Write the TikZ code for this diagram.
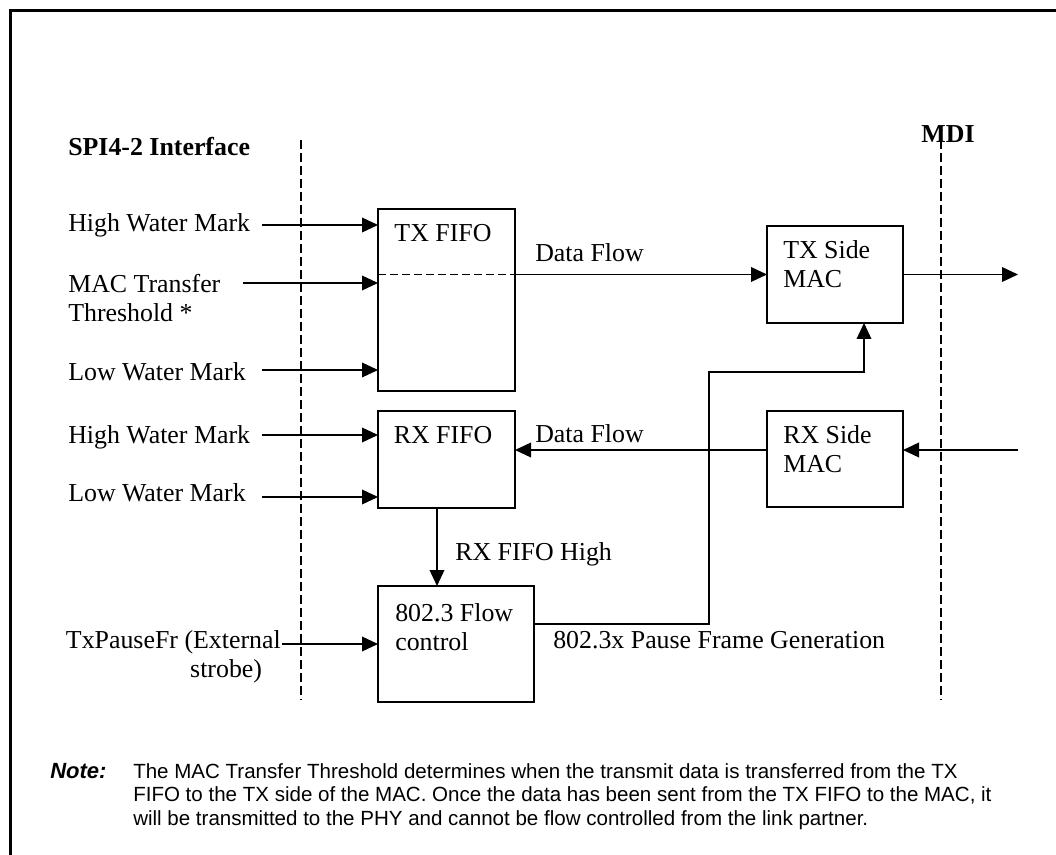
\documentclass[tikz,border=0pt]{standalone}
\usepackage{fontspec}
\setmainfont{Liberation Serif}
\newfontfamily\notefont{Liberation Sans}
\usetikzlibrary{arrows.meta}
\tikzset{
  unitbox/.style={draw,line width=1.1pt,inner sep=0pt,outer sep=0pt},
  sig/.style={-{Triangle[length=12pt,width=11pt]},line width=1.1pt},
  boundary/.style={line width=0.8pt,dash pattern=on 6.75pt off 3pt},
  fifosplit/.style={line width=0.8pt,dash pattern=on 6pt off 3pt},
  lbl/.style={inner sep=0pt,font=\fontsize{19.4}{21.75}\selectfont},
  head/.style={inner sep=0pt,font=\fontsize{19.4}{21.75}\selectfont\bfseries},
  notestyle/.style={inner sep=0pt,font=\notefont\fontsize{15.4}{17.6}\selectfont}
}
\begin{document}
\begin{tikzpicture}[x=0.75pt,y=-0.75pt]
  \useasboundingbox (0,0) rectangle (1056,855);
  \draw[line width=1.9pt] (10.5,855) -- (10.5,10.5) -- (1056,10.5);
  % interface boundaries
  \coordinate (spitop) at (301,140);
  \coordinate (spibot) at (301,700);
  \coordinate (mditop) at (941,140);
  \coordinate (mdibot) at (941,700);
  \draw[boundary] (spitop) -- (spibot);
  \draw[boundary] (mditop) -- (mdibot);
  \node[head,anchor=base west] (spi) at (68,156) {SPI4-2 Interface};
  \node[head,anchor=base] (mdi) at (948,143) {MDI};
  % blocks
  \node[unitbox,minimum width=102.75pt,minimum height=136.5pt] (txfifo) at (446.5,300) {};
  \node[unitbox,minimum width=102.75pt,minimum height=72.75pt] (rxfifo) at (446.5,459.5) {};
  \node[unitbox,minimum width=102pt,minimum height=72.75pt] (txmac) at (835,274.5) {};
  \node[unitbox,minimum width=102pt,minimum height=72pt] (rxmac) at (835,459) {};
  \node[unitbox,minimum width=117pt,minimum height=87pt] (flow) at (456,644) {};
  \node[lbl,anchor=base] (txfifolbl) at (443,242) {TX FIFO};
  \node[lbl,anchor=base] (rxfifolbl) at (443,443) {RX FIFO};
  \node[lbl,anchor=north west,align=left] (txmaclbl) at (783,240.3) {TX Side\\MAC};
  \node[lbl,anchor=north west,align=left] (rxmaclbl) at (783,425.3) {RX Side\\MAC};
  \node[lbl,anchor=north west,align=left] (flowlbl) at (395,603.5) {802.3 Flow\\control};
  \draw[fifosplit] (txfifo.west |- txmac.west) -- (txfifo.east |- txmac.west);
  % SPI4-2 side inputs
  \node[lbl,anchor=base west] (hwmtx) at (68,232) {High Water Mark};
  \node[lbl,anchor=north west,align=left] (mtt) at (68,274.3) {MAC Transfer\\Threshold *};
  \node[lbl,anchor=base west] (lwmtx) at (68,380) {Low Water Mark};
  \node[lbl,anchor=base west] (hwmrx) at (68,443) {High Water Mark};
  \node[lbl,anchor=base west] (lwmrx) at (68,501) {Low Water Mark};
  \node[lbl,anchor=north east,align=right] (pausein) at (281,630.2) {TxPauseFr (External\\strobe)\kern14pt};
  \coordinate (hwmtxtail) at (262,225);
  \coordinate (mtttail) at (243,283);
  \coordinate (lwmtxtail) at (262,370);
  \coordinate (hwmrxtail) at (262,435);
  \coordinate (lwmrxtail) at (262,497);
  \coordinate (pausetail) at (282,644);
  \draw[sig] (hwmtxtail) -- (hwmtxtail -| txfifo.west);
  \draw[sig] (mtttail) -- (mtttail -| txfifo.west);
  \draw[sig] (lwmtxtail) -- (lwmtxtail -| txfifo.west);
  \draw[sig] (hwmrxtail) -- (hwmrxtail -| rxfifo.west);
  \draw[sig] (lwmrxtail) -- (lwmrxtail -| rxfifo.west);
  \draw[sig] (pausetail) -- (flow.west);
  % data paths
  \coordinate (mdiout) at (1018,275);
  \coordinate (mdiin) at (1018,450);
  \coordinate (pausebend) at (709,372);
  \draw[sig] (txfifo.east |- txmac.west) -- (txmac.west);
  \draw[sig] (txmac.east) -- (txmac.east -| mdiout);
  \draw[sig] (mdiin) -- (mdiin -| rxmac.east);
  \draw[sig] (mdiin -| rxmac.west) -- (mdiin -| rxfifo.east);
  \draw[sig] (rxfifo.south -| 437,0) -- (flow.north -| 437,0);
  \draw[sig] (flow.east |- 0,624) -| (pausebend) -| (txmac.south -| 864,0);
  \node[lbl,anchor=base west] (txflow) at (535,262) {Data Flow};
  \node[lbl,anchor=base west] (rxflow) at (535,442) {Data Flow};
  \node[lbl,anchor=base west] (fifohigh) at (455,560) {RX FIFO High};
  \node[lbl,anchor=base west] (pausegen) at (553,648) {802.3x Pause Frame Generation};
  % note
  \node[notestyle,anchor=base west,font=\notefont\fontsize{16.5}{17.6}\selectfont\bfseries\itshape] (notehd) at (50,778) {Note:};
  \node[notestyle,anchor=north west,align=left] (notetxt) at (133,763.3) {The MAC Transfer Threshold determines when the transmit data is transferred from the TX\\FIFO to the TX side of the MAC. Once the data has been sent from the TX FIFO to the MAC, it\\will be transmitted to the PHY and cannot be flow controlled from the link partner.};
\end{tikzpicture}
\end{document}
